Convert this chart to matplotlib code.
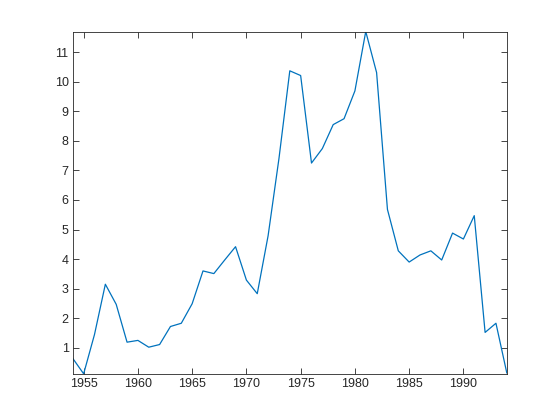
import matplotlib
matplotlib.use("Agg")
import matplotlib.pyplot as plt
import numpy as np

# Datos (1954-1994)
anios = np.arange(1954, 1995)
valores = [0.64, 0.12, 1.45, 3.15, 2.47, 1.19, 1.25, 1.02, 1.11, 1.72,
           1.83, 2.49, 3.60, 3.51, 3.97, 4.42, 3.29, 2.83, 4.79, 7.40,
           10.37, 10.21, 7.25, 7.74, 8.55, 8.75, 9.69, 11.70, 10.31, 5.68,
           4.28, 3.90, 4.14, 4.28, 3.97, 4.88, 4.68, 5.47, 1.52, 1.83,
           0.15]
xticks = [1955, 1960, 1965, 1970, 1975, 1980, 1985, 1990]
yticks = list(range(1, 12))

plt.rcParams.update({
    'font.family': ['Liberation Sans', 'DejaVu Sans'],
    'font.size': 9,
    'axes.edgecolor': '#262626',
    'axes.linewidth': 0.6,
    'xtick.color': '#262626',
    'ytick.color': '#262626',
    'xtick.labelcolor': '#262626',
    'ytick.labelcolor': '#262626',
})

fig = plt.figure(figsize=(5.6, 4.2), dpi=100)
ax = fig.add_axes([0.13, 0.11, 0.775, 0.815])

ax.plot(anios, valores, color='#0072BD', linewidth=0.9)

ax.set_xlim(anios[0], anios[-1])
ax.set_ylim(min(valores), max(valores))
ax.set_xticks(xticks)
ax.set_yticks(yticks)
ax.tick_params(direction='in', length=4, width=0.6, top=True, right=True,
               labelsize=9, pad=3)

fig.savefig('out.png', dpi=100, facecolor='white')
